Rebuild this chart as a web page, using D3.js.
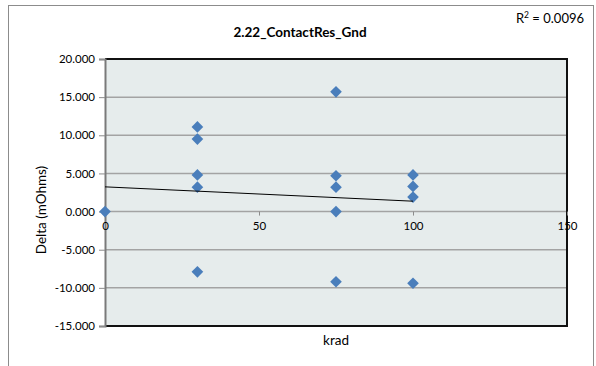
<!DOCTYPE html>
<html>
<head>
<meta charset="utf-8">
<script src="https://cdn.jsdelivr.net/npm/d3@7"></script>
<style>
  body { margin: 0; background: #fff; }
  text { font-family: Lato, "Open Sans", sans-serif; fill: #000; }
</style>
</head>
<body>
<svg width="596" height="366"></svg>
<script>
// krad dose for each sample, and its delta in mOhms
const krad  = [0, 30, 30, 30, 30, 30, 75, 75, 75, 75, 75, 100, 100, 100, 100];
const delta = [0, 11.1, 9.5, 4.8, 3.2, -7.9, 15.7, 4.7, 3.2, 0.0, -9.2, 4.8, 3.3, 1.9, -9.4];

// linear trendline as drawn by the spreadsheet (start / end)
const trendX = [0, 100];
const trendY = [3.24, 1.36];

const xTicks = [0, 50, 100, 150];
const yTicks = [-15, -10, -5, 0, 5, 10, 15, 20];

const svg = d3.select("svg");

// chart frame
svg.append("rect")
  .attr("x", 8.5).attr("y", 5.5)
  .attr("width", 585).attr("height", 400)
  .attr("fill", "#fff")
  .attr("stroke", "#8c8c8c");

const pL = 105, pR = 567, pT = 59, pB = 326;

const x = d3.scaleLinear().domain([0, 150]).range([pL, pR]);
const y = d3.scaleLinear().domain([-15, 20]).range([pB, pT]);

// plot area
svg.append("rect")
  .attr("x", pL).attr("y", pT)
  .attr("width", pR - pL).attr("height", pB - pT)
  .attr("fill", "#e6ecec");

// gridlines
svg.append("g")
  .selectAll("line")
  .data(yTicks)
  .enter()
  .append("line")
  .attr("x1", pL).attr("x2", pR)
  .attr("y1", d => y(d)).attr("y2", d => y(d))
  .attr("stroke", "#a3a3a3")
  .attr("stroke-width", 1.5);

// plot border (top, right, bottom)
svg.append("path")
  .attr("d", `M${pL},${pT}H${pR}V${pB}H${pL}`)
  .attr("fill", "none")
  .attr("stroke", "#111")
  .attr("stroke-width", 2);

// y axis (hyphen minus like the spreadsheet)
const fmt = d3.format(".3f");
const yAxis = svg.append("g")
  .attr("transform", `translate(${pL},0)`)
  .call(d3.axisLeft(y).tickValues(yTicks).tickFormat(d => fmt(d).replace("\u2212", "-")).tickSize(6).tickPadding(4));
yAxis.select(".domain").attr("stroke", "#7a7a7a").attr("stroke-width", 2);
yAxis.selectAll(".tick line").attr("stroke", "#8c8c8c");
yAxis.selectAll("text").style("font-size", "11.5px").attr("fill", "#000");

// x axis, crossing at zero
const xAxis = svg.append("g")
  .attr("transform", `translate(0,${y(0)})`)
  .call(d3.axisBottom(x).tickValues(xTicks).tickSize(4).tickPadding(6));
xAxis.select(".domain").remove();
xAxis.selectAll(".tick line").attr("stroke", "#8c8c8c");
xAxis.selectAll("text").style("font-size", "11.5px").attr("fill", "#000");

// points
const diamond = d3.symbol().type(d3.symbolSquare).size(68);
svg.append("g")
  .selectAll("path")
  .data(krad)
  .enter()
  .append("path")
  .attr("d", diamond)
  .attr("transform", (d, i) => `translate(${x(d)},${y(delta[i])}) rotate(45)`)
  .attr("fill", "#4a7ebb");

// trendline
svg.append("line")
  .attr("x1", x(trendX[0])).attr("y1", y(trendY[0]))
  .attr("x2", x(trendX[1])).attr("y2", y(trendY[1]))
  .attr("stroke", "#000")
  .attr("stroke-width", 1);

// titles
svg.append("text")
  .attr("x", 300).attr("y", 37)
  .attr("text-anchor", "middle")
  .style("font-size", "13.5px").style("font-weight", "bold")
  .text("2.22_ContactRes_Gnd");

svg.append("text")
  .attr("x", 584).attr("y", 23)
  .attr("text-anchor", "end")
  .style("font-size", "13px")
  .html("R<tspan dy='-5' font-size='8.5px'>2</tspan><tspan dy='5'> = 0.0096</tspan>");

svg.append("text")
  .attr("x", (pL + pR) / 2).attr("y", 345)
  .attr("text-anchor", "middle")
  .style("font-size", "13.5px")
  .text("krad");

svg.append("text")
  .attr("transform", "translate(46,210) rotate(-90)")
  .attr("text-anchor", "middle")
  .style("font-size", "13.5px")
  .text("Delta (mOhms)");
</script>
</body>
</html>
